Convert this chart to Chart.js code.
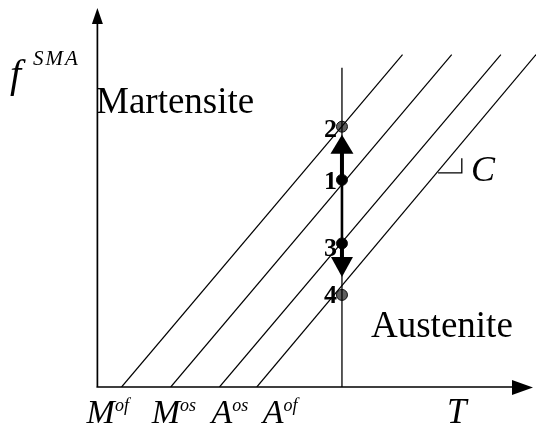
<!DOCTYPE html>
<html>
<head>
<meta charset="utf-8">
<script src="https://cdn.jsdelivr.net/npm/chart.js@4"></script>
<style>
  html, body { margin: 0; padding: 0; background: #fff; }
  #phaseChart { display: block; }
</style>
</head>
<body>
<canvas id="phaseChart" width="536" height="426"></canvas>
<script>
// transformation boundaries: temperature where each line meets f = 0 and f = 1
var boundaryMain = ['M', 'M', 'A', 'A'];
var boundarySup = ['of', 'os', 'os', 'of'];
var startTemps = [5.6, 16.8, 27.9, 36.4];
var endTemps = [69.6, 80.8, 92.0, 100];

// isothermal loading path at T
var testTemp = 55.8;
var testLineTop = 0.96;
var stateLabels = ['1', '2', '3', '4'];
var stateF = [0.623, 0.783, 0.432, 0.277];
var stateFill = ['#000', '#5e5e5e', '#000', '#5e5e5e'];

// slope marker C next to the A^of line
var slopeMarkX = [77.7, 83.1, 83.1];
var slopeMarkY = [0.644, 0.644, 0.688];

var SERIF = '"Liberation Serif", "Times New Roman", serif';

var datasets = [];
startTemps.forEach(function(t0, i) {
    datasets.push({
        data: [{x: t0, y: 0}, {x: endTemps[i], y: 1}],
        borderColor: '#000',
        borderWidth: 1.2,
        pointRadius: 0
    });
});
datasets.push({
    data: [{x: testTemp, y: 0}, {x: testTemp, y: testLineTop}],
    borderColor: '#000',
    borderWidth: 1.3,
    pointRadius: 0
});
// heavier stroke between states 1 and 3
datasets.push({
    data: [{x: testTemp, y: stateF[0]}, {x: testTemp, y: stateF[2]}],
    borderColor: '#000',
    borderWidth: 2.6,
    pointRadius: 0
});
datasets.push({
    data: slopeMarkX.map(function(x, i) { return {x: x, y: slopeMarkY[i]}; }),
    borderColor: '#000',
    borderWidth: 1.3,
    pointRadius: 0
});
datasets.push({
    data: stateF.map(function(f) { return {x: testTemp, y: f}; }),
    showLine: false,
    pointRadius: 5.5,
    pointBackgroundColor: stateFill,
    pointBorderColor: '#111',
    pointBorderWidth: 1
});

function arrowHead(ctx, tipX, tipY, baseX, baseY, half) {
    var dx = tipX - baseX, dy = tipY - baseY;
    var len = Math.sqrt(dx * dx + dy * dy);
    var nx = -dy / len, ny = dx / len;
    ctx.beginPath();
    ctx.moveTo(tipX, tipY);
    ctx.lineTo(baseX + nx * half, baseY + ny * half);
    ctx.lineTo(baseX - nx * half, baseY - ny * half);
    ctx.closePath();
    ctx.fill();
}

var diagramDecor = {
    id: 'diagramDecor',
    beforeDatasetsDraw: function(chart) {
        var ctx = chart.ctx;
        var xs = chart.scales.x, ys = chart.scales.y;
        var ox = xs.getPixelForValue(0) + 0.4, oy = ys.getPixelForValue(0);
        ctx.save();
        ctx.strokeStyle = '#000';
        ctx.fillStyle = '#000';
        ctx.lineWidth = 1.7;
        // axes with arrow heads
        ctx.beginPath();
        ctx.moveTo(ox, oy);
        ctx.lineTo(ox, 22);
        ctx.moveTo(ox - 1, oy);
        ctx.lineTo(514, oy);
        ctx.stroke();
        arrowHead(ctx, ox, 8, ox, 24, 5.5);
        arrowHead(ctx, 533, oy + 0.5, 512, oy + 0.5, 7.5);
        ctx.restore();
    },
    afterDatasetsDraw: function(chart) {
        var ctx = chart.ctx;
        var xs = chart.scales.x, ys = chart.scales.y;
        var px = xs.getPixelForValue(testTemp);
        var py = stateF.map(function(f) { return ys.getPixelForValue(f); });
        var oy = ys.getPixelForValue(0);
        ctx.save();
        ctx.fillStyle = '#000';
        ctx.strokeStyle = '#000';

        // 1 -> 2 and 3 -> 4 arrows
        ctx.lineWidth = 4;
        ctx.beginPath();
        ctx.moveTo(px, py[0] - 4);
        ctx.lineTo(px, py[1] + 26);
        ctx.moveTo(px, py[2] + 4);
        ctx.lineTo(px, py[2] + 15);
        ctx.stroke();
        arrowHead(ctx, px, py[1] + 8, px, py[1] + 27, 11.5);
        arrowHead(ctx, px, py[3] - 18, px, py[3] - 38, 11);

        // state numbers
        ctx.font = 'bold 26px ' + SERIF;
        ctx.textAlign = 'right';
        ctx.textBaseline = 'alphabetic';
        var numDy = [9, 10, 13, 8];
        stateLabels.forEach(function(s, i) {
            ctx.fillText(s, px - 5, py[i] + numDy[i]);
        });

        // phase regions
        ctx.textAlign = 'left';
        ctx.font = '37px ' + SERIF;
        ctx.fillText('Martensite', 96, 113);
        ctx.fillText('Austenite', 371, 337);

        // boundary temperatures under the T axis
        var nudge = [-35, -19, -8, 6];
        startTemps.forEach(function(t0, i) {
            var x = xs.getPixelForValue(t0) + nudge[i];
            ctx.font = 'italic 34px ' + SERIF;
            ctx.fillText(boundaryMain[i], x, oy + 36);
            var w = ctx.measureText(boundaryMain[i]).width;
            ctx.font = 'italic 18px ' + SERIF;
            ctx.fillText(boundarySup[i], x + w, oy + 24);
        });

        // axis titles and slope label
        ctx.font = 'italic 35px ' + SERIF;
        ctx.fillText('T', 447, oy + 36);
        ctx.font = 'italic 36px ' + SERIF;
        ctx.fillText('C', 471, 181);
        ctx.font = 'italic 40px ' + SERIF;
        ctx.fillText('f', 10, 87);
        ctx.font = 'italic 21px ' + SERIF;
        ctx.letterSpacing = '2px';
        ctx.fillText('SMA', 33, 65);
        ctx.restore();
    }
};

var ctx = document.getElementById('phaseChart').getContext('2d');
var phaseChart = new Chart(ctx, {
    type: 'line',
    data: { datasets: datasets },
    options: {
        responsive: false,
        animation: false,
        layout: {
            autoPadding: false,
            padding: { left: 97, right: 0, top: 8, bottom: 39 }
        },
        plugins: {
            legend: { display: false },
            tooltip: { enabled: false }
        },
        scales: {
            x: { type: 'linear', min: 0, max: 100, display: false },
            y: { type: 'linear', min: 0, max: 1.14, display: false }
        }
    },
    plugins: [diagramDecor]
});
</script>
</body>
</html>
